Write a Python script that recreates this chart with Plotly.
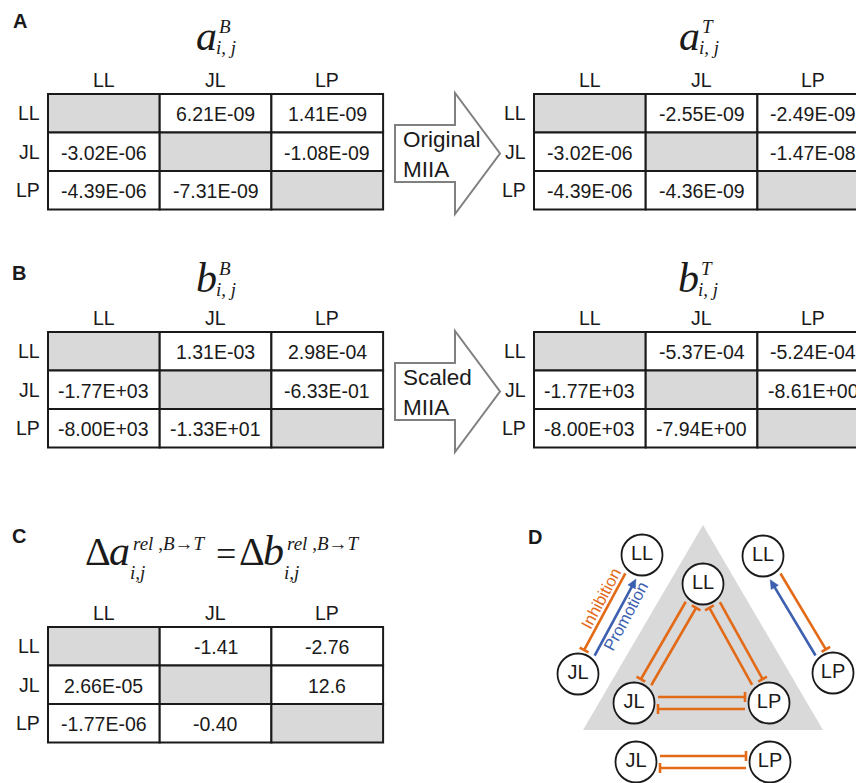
import numpy as np
import plotly.graph_objects as go

W, H = 856, 783

# ---------------------------------------------------------------- data
species = ["LL", "JL", "LP"]

# interaction coefficients, row i acts on column j; None = diagonal (not defined)
a_base = [[None, 6.21e-09, 1.41e-09],
          [-3.02e-06, None, -1.08e-09],
          [-4.39e-06, -7.31e-09, None]]
a_trans = [[None, -2.55e-09, -2.49e-09],
           [-3.02e-06, None, -1.47e-08],
           [-4.39e-06, -4.36e-09, None]]
b_base = [[None, 1.31e-03, 2.98e-04],
          [-1.77e+03, None, -6.33e-01],
          [-8.00e+03, -1.33e+01, None]]
b_trans = [[None, -5.37e-04, -5.24e-04],
           [-1.77e+03, None, -8.61e+00],
           [-8.00e+03, -7.94e+00, None]]
delta_rel = [[None, -1.41, -2.76],
             [2.66e-05, None, 12.6],
             [-1.77e-06, -0.40, None]]

# network motifs: (source, target, kind)
motif_left = [("LL", "JL", "inhibition"), ("JL", "LL", "promotion")]
motif_center = [("LL", "JL", "inhibition"), ("JL", "LL", "inhibition"),
                ("LP", "LL", "inhibition"), ("LL", "LP", "inhibition"),
                ("JL", "LP", "inhibition"), ("LP", "JL", "inhibition")]
motif_right = [("LL", "LP", "inhibition"), ("LP", "LL", "promotion")]
motif_bottom = [("JL", "LP", "inhibition"), ("LP", "JL", "inhibition")]

# ---------------------------------------------------------------- styles
SANS = "Liberation Sans, Arial, sans-serif"
SERIF = "Liberation Serif, Times New Roman, serif"
INK = "#1a1a1a"
GRAY_CELL = "#d9d9d9"
ORANGE = "#e36a17"
BLUE = "#3c5fb0"

shapes = []
annotations = []


def txt(x, y, s, size, color=INK, family=SANS, xanchor="center",
        yanchor="middle", angle=0):
    annotations.append(dict(x=x, y=y, xref="x", yref="y", text=s,
                            showarrow=False, xanchor=xanchor, yanchor=yanchor,
                            textangle=angle,
                            font=dict(size=size, color=color, family=family)))


def txt_base(x, baseline, s, size, xanchor="center", family=SERIF):
    # place text by its baseline rather than its box centre
    txt(x, baseline - 0.34 * size, s, size, family=family, xanchor=xanchor)


def fmt_sci(v):
    return f"{v:.2E}"


def fmt_rel(v):
    if abs(v) < 1e-3:
        return f"{v:.2E}"
    if abs(v) >= 10:
        return f"{v:.1f}"
    return f"{v:.2f}"


def table(x0, y0, values, fmt, col_w=111.7, row_h=38.5):
    for j, name in enumerate(species):
        txt(x0 + (j + 0.5) * col_w, y0 - 14, name, 19.5)
    for i, name in enumerate(species):
        txt(x0 - 6, y0 + (i + 0.5) * row_h, name, 19.5, xanchor="right")
        for j in range(3):
            v = values[i][j]
            shapes.append(dict(type="rect", xref="x", yref="y",
                               x0=x0 + j * col_w, x1=x0 + (j + 1) * col_w,
                               y0=y0 + i * row_h, y1=y0 + (i + 1) * row_h,
                               fillcolor=GRAY_CELL if v is None else "white",
                               line=dict(color=INK, width=2)))
            if v is not None:
                txt(x0 + (j + 0.5) * col_w, y0 + (i + 0.5) * row_h + 1,
                    fmt(v), 19.5)


def coef_title(xc, base, letter, sup):
    txt_base(xc, base, f"<i>{letter}</i>", 42)
    txt_base(xc + 19, base - 17, f"<i>{sup}</i>", 19)
    txt_base(xc + 20, base + 4, "<i>i, j</i>", 19)


def block_arrow(x_left, yc, label, body_h=57, head_h=121, body_w=60, head_w=45):
    xb = x_left + body_w
    xt = xb + head_w
    path = (f"M {x_left} {yc - body_h / 2} L {xb} {yc - body_h / 2} "
            f"L {xb} {yc - head_h / 2} L {xt} {yc} L {xb} {yc + head_h / 2} "
            f"L {xb} {yc + body_h / 2} L {x_left} {yc + body_h / 2} Z")
    shapes.append(dict(type="path", xref="x", yref="y", path=path,
                       fillcolor="white", line=dict(color="#808080", width=2)))
    txt_base(x_left + 6, yc - 6, label, 22.5, xanchor="left", family=SANS)
    txt_base(x_left + 6, yc + 24, "MIIA", 22.5, xanchor="left", family=SANS)


# ---------------------------------------------------------------- panels A, B
TL, TR = 48, 534
txt(20, 21, "<b>A</b>", 20)
coef_title(TL + 158, 50, "a", "B")
coef_title(TR + 155, 50, "a", "T")
table(TL, 94, a_base, fmt_sci)
table(TR, 94, a_trans, fmt_sci)
block_arrow(395, 153.5, "Original")

txt(19, 273, "<b>B</b>", 20)
coef_title(TL + 158, 292, "b", "B")
coef_title(TR + 154, 292, "b", "T")
table(TL, 332, b_base, fmt_sci)
table(TR, 332, b_trans, fmt_sci)
block_arrow(395, 391.5, "Scaled")

# ---------------------------------------------------------------- panel C
txt(19, 536, "<b>C</b>", 20)
for x_delta, letter in [(98, "a"), (252, "b")]:
    txt_base(x_delta, 565, "Δ", 40)
    txt_base(x_delta + 21, 565, f"<i>{letter}</i>", 42)
    txt_base(x_delta + 33, 550, "<i>rel</i> ,<i>B</i>→<i>T</i>", 19, xanchor="left")
    txt_base(x_delta + 30, 579, "<i>i,j</i>", 19, xanchor="left")
txt(226, 554, "=", 36, family=SERIF)
table(TL, 627, delta_rel, fmt_rel)

# ---------------------------------------------------------------- panel D
txt(535, 537, "<b>D</b>", 20)
shapes.append(dict(type="path", xref="x", yref="y",
                   path="M 703 525 L 823 730 L 583 730 Z",
                   fillcolor="#d9d9d9", line=dict(width=0), layer="below"))

motifs = [
    (motif_left, {"LL": (642, 555), "JL": (578, 674)}, +1),
    (motif_center, {"LL": (703, 584), "JL": (634, 703), "LP": (769, 703)}, None),
    (motif_right, {"LL": (763, 556), "LP": (833, 673)}, -1),
    (motif_bottom, {"JL": (636, 762), "LP": (770, 762)}, -1),
]
# side of travel each lane sits on, for the central triangle
center_side = {("LL", "JL"): +1, ("JL", "LL"): +1}


def edge(p, q, kind, side, off=6.0, gap=24.0):
    p = np.asarray(p, float)
    q = np.asarray(q, float)
    u = (q - p) / np.linalg.norm(q - p)
    n = np.array([-u[1], u[0]])
    s = p + u * gap + n * off * side
    e = q - u * gap + n * off * side
    color = ORANGE if kind == "inhibition" else BLUE
    if kind == "inhibition":
        shapes.append(dict(type="line", xref="x", yref="y", x0=s[0], y0=s[1],
                           x1=e[0], y1=e[1], line=dict(color=color, width=2.6)))
        b0, b1 = e + n * 5, e - n * 5
        shapes.append(dict(type="line", xref="x", yref="y", x0=b0[0], y0=b0[1],
                           x1=b1[0], y1=b1[1], line=dict(color=color, width=2.6)))
    else:
        m = e - u * 6
        shapes.append(dict(type="line", xref="x", yref="y", x0=s[0], y0=s[1],
                           x1=m[0], y1=m[1], line=dict(color=color, width=2.6)))
        h0 = e - u * 9 + n * 4.2
        h1 = e - u * 9 - n * 4.2
        shapes.append(dict(type="path", xref="x", yref="y",
                           path=f"M {e[0]} {e[1]} L {h0[0]} {h0[1]} L {h1[0]} {h1[1]} Z",
                           fillcolor=color, line=dict(color=color, width=0.5)))


node_x, node_y, node_t = [], [], []
for edges, pos, side in motifs:
    for src, dst, kind in edges:
        sd = side if side is not None else center_side.get((src, dst), -1)
        edge(pos[src], pos[dst], kind, sd)
    for name, (x, y) in pos.items():
        node_x.append(x)
        node_y.append(y)
        node_t.append(name)

# lane labels along the left motif
pJL, pLL = np.array((578, 674), float), np.array((642, 555), float)
u = (pLL - pJL) / np.linalg.norm(pLL - pJL)
n = np.array([-u[1], u[0]])
mid = (pJL + pLL) / 2
ang = float(np.degrees(np.arctan2(u[1], u[0])))
c_inh = mid + u * 10 - n * 15.5
c_pro = mid + u * 6 + n * 14.5
txt(c_inh[0], c_inh[1], "Inhibition", 16.5, color=ORANGE, angle=ang)
txt(c_pro[0], c_pro[1], "Promotion", 16.5, color=BLUE, angle=ang)

fig = go.Figure()
fig.add_trace(go.Scatter(
    x=node_x, y=node_y, text=node_t, mode="markers+text",
    textposition="middle center",
    marker=dict(size=41, color="white", line=dict(color=INK, width=1.8)),
    textfont=dict(family=SANS, size=20, color=INK),
    hoverinfo="skip", cliponaxis=False))

fig.update_layout(
    width=W, height=H, margin=dict(l=0, r=0, t=0, b=0),
    paper_bgcolor="white", plot_bgcolor="white", showlegend=False,
    xaxis=dict(range=[0, W], visible=False, fixedrange=True),
    yaxis=dict(range=[H, 0], visible=False, fixedrange=True),
    shapes=shapes, annotations=annotations)

fig.write_html("out.html")
